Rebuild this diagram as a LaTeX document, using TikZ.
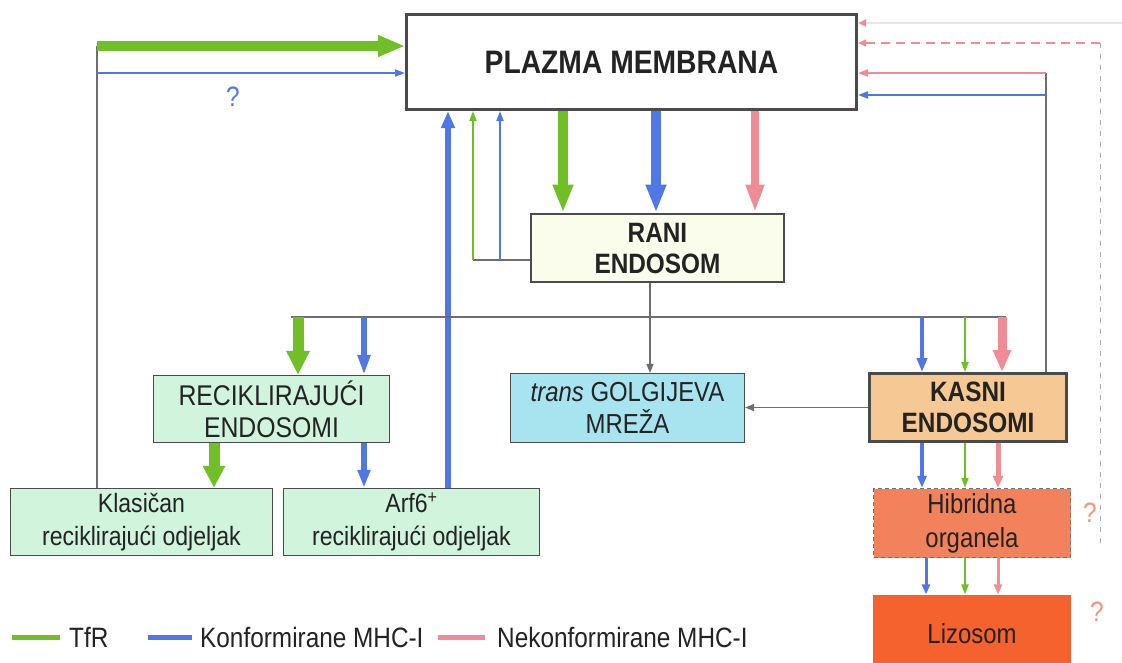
\documentclass[tikz,border=0pt]{standalone}
\usepackage{fontspec}
\setmainfont{Liberation Sans}[FakeStretch=0.87]
\usetikzlibrary{arrows.meta}
\definecolor{cgreen}{RGB}{112,190,40}
\definecolor{cblue}{RGB}{80,120,228}
\definecolor{cpink}{RGB}{240,140,150}
\definecolor{cgrayl}{RGB}{110,110,110}
\definecolor{cbord}{RGB}{75,75,75}
\definecolor{ctext}{RGB}{35,35,35}
\definecolor{frani}{RGB}{250,252,236}
\definecolor{frec}{RGB}{208,244,220}
\definecolor{fgol}{RGB}{168,228,240}
\definecolor{fkas}{RGB}{245,200,148}
\definecolor{fhib}{RGB}{242,130,92}
\definecolor{fliz}{RGB}{245,98,45}
\definecolor{cq}{RGB}{240,150,120}
\newcommand\myfs[2]{\fontsize{#1}{#2}\selectfont}
\begin{document}
\begin{tikzpicture}[x=1pt,y=-1pt,
  box/.style={draw=cbord, line width=1.2pt, inner sep=0pt, align=center, text=ctext},
  bbox/.style={box, line width=2.8pt, font=\bfseries\myfs{28}{31}},
  rbox/.style={box, fill=frec, font=\myfs{27}{32}},
  conn/.style={draw=cgrayl, line width=1.4pt},
  connarr/.style={conn, -{Triangle[length=9pt,width=7pt]}},
  arr/.style n args={4}{draw=#1, line width=#2, -{Triangle[length=#3,width=#4]}},
  legtext/.style={anchor=west, text=ctext, font=\myfs{28}{30}, inner sep=0pt},
  qmark/.style={font=\myfs{28}{30}, inner sep=0pt}
]
\useasboundingbox (0,0) rectangle (1122,662);
\fill[white] (0,0) rectangle (1122,662);

% boxes
\node[bbox, fill=white, line width=3pt, font=\bfseries\myfs{32.5}{36}, minimum width=450pt, minimum height=95pt] (plazma) at (631.5,62) {PLAZMA MEMBRANA};
\node[bbox, fill=frani, minimum width=253pt, minimum height=68pt] (rani) at (657.5,248) {RANI\\ENDOSOM};
\node[rbox, font=\myfs{28.5}{32}, minimum width=236pt, minimum height=67pt] (rec) at (271.5,409) {RECIKLIRAJUĆI\\ENDOSOMI};
\node[box, fill=fgol, font=\myfs{27.5}{32}, minimum width=234pt, minimum height=69pt] (golgi) at (627.5,408) {\textit{trans} GOLGIJEVA\\MREŽA};
\node[bbox, fill=fkas, minimum width=197pt, minimum height=68pt] (kas) at (968,407.5) {KASNI\\ENDOSOMI};
\node[rbox, font=\myfs{26.5}{33}, minimum width=262pt, minimum height=67pt] (klas) at (141.5,522) {Klasičan\\reciklirajući odjeljak};
\node[rbox, font=\myfs{26.5}{33}, minimum width=256pt, minimum height=67pt] (arf) at (411.5,522) {Arf6\textsuperscript{+}\\reciklirajući odjeljak};
\node[box, fill=fhib, draw=cbord!80, line width=1.3pt, dash pattern=on 4pt off 3pt, font=\myfs{27.5}{34}, minimum width=197pt, minimum height=69pt] (hib) at (972,523) {Hibridna\\organela};
\node[box, fill=fliz, draw=none, font=\myfs{27.5}{30}, minimum width=198pt, minimum height=78pt] (liz) at (972,634) {Lizosom};

% coordinates
\coordinate (tl) at (97,46);
\coordinate (tlb) at (97,73);
\coordinate (tr) at (1046,73);
\coordinate (trb) at (1046,95);
\coordinate (xg) at (563,0);
\coordinate (xb) at (656,0);
\coordinate (xp) at (755,0);
\coordinate (ra) at (473,260);
\coordinate (rb) at (500,260);
\coordinate (xa6) at (448,0);
\coordinate (hj) at (650,317);
\coordinate (hl) at (291,317);
\coordinate (hr) at (1006,317);
\coordinate (x1) at (298,0);
\coordinate (x2) at (364,0);
\coordinate (x3) at (922,0);
\coordinate (x4) at (965,0);
\coordinate (x5) at (1002,0);
\coordinate (x6) at (214,0);
\coordinate (x7) at (364,0);
\coordinate (x8) at (998,0);
\coordinate (x9) at (926,0);
\coordinate (dr) at (1100,43);
\coordinate (dt) at (1122,23);
\coordinate (dq) at (1100,545);

% top-left returns
\draw[conn] (klas.north -| tl) -- (tl);
\draw[arr={cgreen}{10pt}{27pt}{20pt}] (tl) -- (plazma.west |- tl);
\draw[arr={cblue}{1.8pt}{10pt}{7pt}] (tlb) -- (plazma.west |- tlb);
\node[qmark, text=cblue] (q1) at (233,97) {?};

% plazma -> rani
\draw[arr={cgreen}{10pt}{28pt}{19pt}] (plazma.south -| xg) -- (rani.north -| xg);
\draw[arr={cblue}{10pt}{28pt}{19pt}] (plazma.south -| xb) -- (rani.north -| xb);
\draw[arr={cpink}{8pt}{28pt}{17pt}] (plazma.south -| xp) -- (rani.north -| xp);

% rani -> plazma (fast recycling)
\draw[conn] (rani.west |- ra) -- (ra);
\draw[arr={cgreen}{1.8pt}{10pt}{7pt}] (ra) -- (plazma.south -| ra);
\draw[arr={cblue}{1.8pt}{10pt}{7pt}] (rb) -- (plazma.south -| rb);

% arf6 -> plazma
\draw[arr={cblue}{6pt}{17pt}{13pt}] (arf.north -| xa6) -- (plazma.south -| xa6);

% rani -> branches
\draw[conn] (rani.south -| hj) -- (hj);
\draw[connarr] (hj) -- (golgi.north -| hj);
\draw[conn] (hl) -- (hr);
\draw[arr={cgreen}{11pt}{24pt}{22pt}] (hl -| x1) -- (rec.north -| x1);
\draw[arr={cblue}{6pt}{20pt}{12pt}] (hl -| x2) -- (rec.north -| x2);
\draw[arr={cblue}{4.5pt}{14pt}{10pt}] (hl -| x3) -- (kas.north -| x3);
\draw[arr={cgreen}{2pt}{10pt}{7pt}] (hl -| x4) -- (kas.north -| x4);
\draw[arr={cpink}{9pt}{22pt}{17pt}] (hl -| x5) -- (kas.north -| x5);

% kasni -> golgi
\draw[connarr] (kas.west) -- (golgi.east |- kas.west);

% kasni -> plazma
\draw[conn] (kas.north -| tr) -- (tr);
\draw[arr={cpink}{2pt}{10pt}{7pt}] (tr) -- (plazma.east |- tr);
\draw[arr={cblue}{2pt}{10pt}{7pt}] (trb) -- (plazma.east |- trb);

% recikl -> compartments
\draw[arr={cgreen}{11pt}{22pt}{21pt}] (rec.south -| x6) -- (klas.north -| x6);
\draw[arr={cblue}{6pt}{18pt}{12pt}] (rec.south -| x7) -- (arf.north -| x7);

% kasni -> hibridna
\draw[arr={cblue}{4pt}{12pt}{9pt}] (kas.south -| x3) -- (hib.north -| x3);
\draw[arr={cgreen}{2pt}{10pt}{7pt}] (kas.south -| x4) -- (hib.north -| x4);
\draw[arr={cpink}{5pt}{12pt}{10pt}] (kas.south -| x8) -- (hib.north -| x8);

% hibridna -> lizosom
\draw[arr={cblue}{3pt}{10pt}{8pt}] (hib.south -| x9) -- (liz.north -| x9);
\draw[arr={cgreen}{2pt}{10pt}{7pt}] (hib.south -| x4) -- (liz.north -| x4);
\draw[arr={cpink}{3pt}{10pt}{8pt}] (hib.south -| x8) -- (liz.north -| x8);

% dashed returns
\draw[black!10, line width=2pt, -{Triangle[length=8pt,width=7pt,color=cpink]}] (dt) -- (plazma.east |- dt);
\draw[cpink, line width=1.5pt, dash pattern=on 9pt off 6pt, -{Triangle[length=8pt,width=7pt]}] (dr) -- (plazma.east |- dr);
\draw[cgrayl!55, line width=1pt, dash pattern=on 5pt off 6pt] (dr) -- (dq);

\node[qmark, text=cq] (q2) at (1090,513) {?};
\node[qmark, text=cq] (q3) at (1097,612) {?};

% legend
\coordinate (lga) at (12,637);
\coordinate (lgb) at (60,637);
\coordinate (lgc) at (148,637);
\coordinate (lgd) at (192,637);
\coordinate (lge) at (438,637);
\coordinate (lgf) at (485,637);
\draw[cgreen, line width=5pt] (lga) -- (lgb);
\node[legtext] (lt1) at (69,637) {TfR};
\draw[cblue, line width=5pt] (lgc) -- (lgd);
\node[legtext] (lt2) at (200,637) {Konformirane MHC-I};
\draw[cpink, line width=5pt] (lge) -- (lgf);
\node[legtext] (lt3) at (497,637) {Nekonformirane MHC-I};
\end{tikzpicture}
\end{document}
